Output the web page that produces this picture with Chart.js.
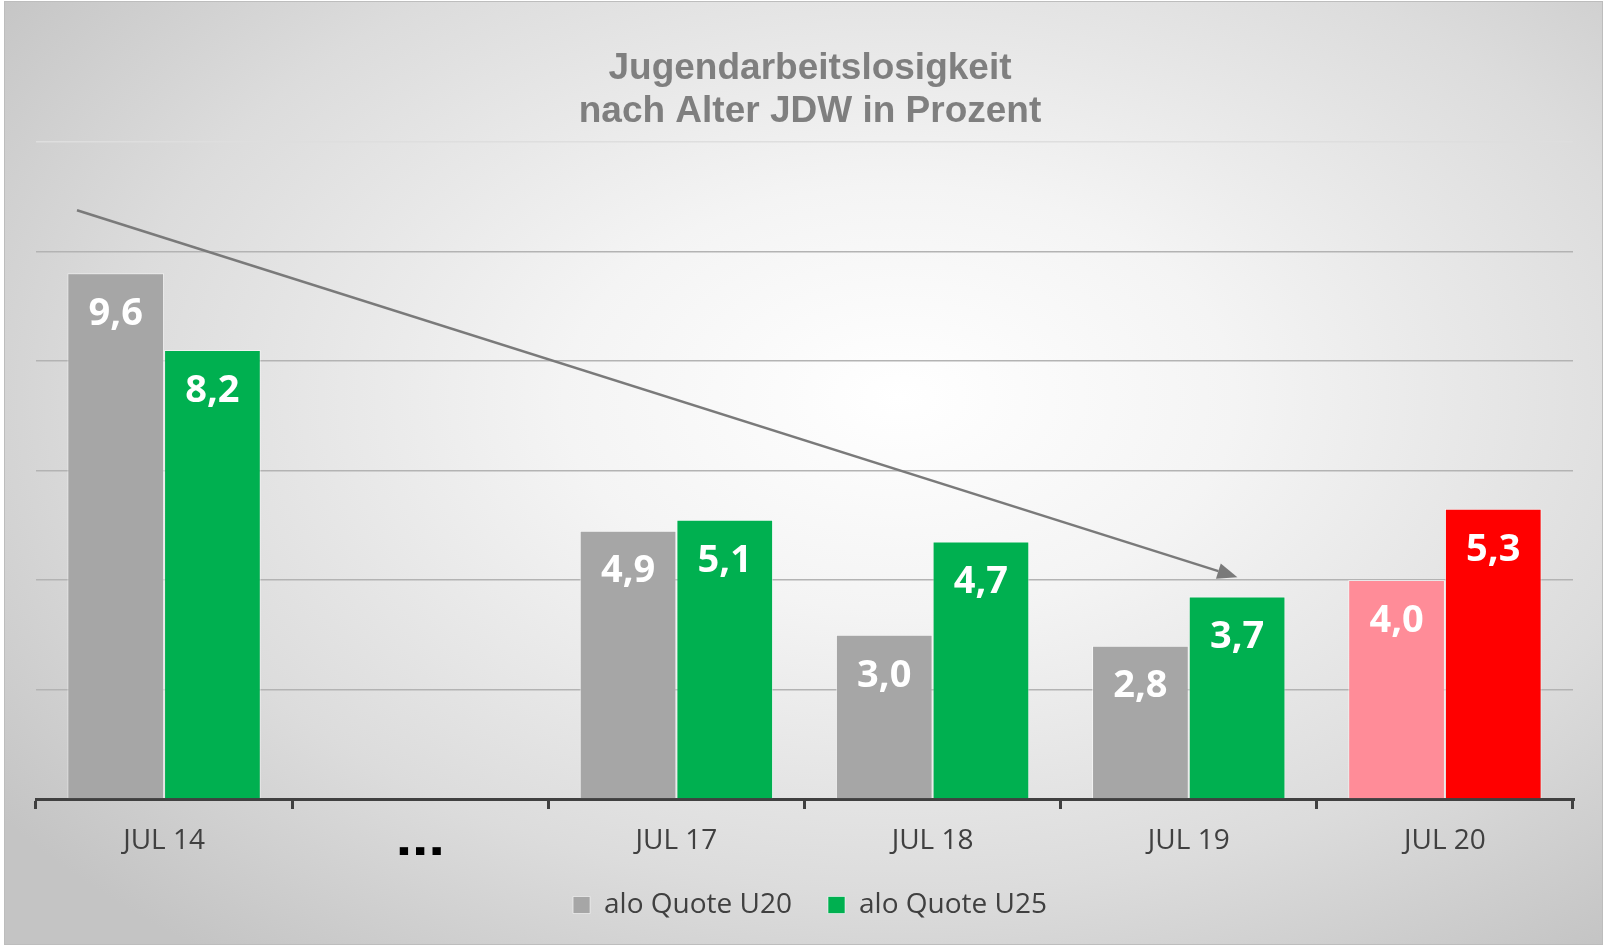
<!DOCTYPE html>
<html>
<head>
<meta charset="utf-8">
<script src="https://cdn.jsdelivr.net/npm/chart.js@4"></script>
<style>
  html, body { margin: 0; padding: 0; width: 1605px; height: 947px; overflow: hidden; background: #ffffff; }
  #frame {
    position: absolute; left: 4px; top: 1px; width: 1597px; height: 942px;
    border: 1px solid #bdbdbd;
    background: radial-gradient(ellipse 70% 75% at 56% 42%, #ffffff 0%, #f4f4f4 30%, #dcdcdc 70%, #c4c4c4 100%);
  }
  #wrap { position: absolute; left: 32px; top: 0; width: 1552px; height: 929px; }
</style>
</head>
<body>
<div id="frame"></div>
<div id="wrap"><canvas id="chart"></canvas></div>
<script>
const categories = ['JUL 14', '...', 'JUL 17', 'JUL 18', 'JUL 19', 'JUL 20'];
const quoteU20 = [9.6, null, 4.9, 3.0, 2.8, 4.0];
const quoteU25 = [8.2, null, 5.1, 4.7, 3.7, 5.3];
const seriesNames = ['alo Quote U20', 'alo Quote U25'];
const yTicks = [0, 2, 4, 6, 8, 10, 12];
// trend arrow, in (category index, percent)
const arrowFrom = [-0.34, 10.75];
const arrowTo = [4.19, 4.05];

const highlightIndex = categories.indexOf('JUL 20');

function barColor(normal, highlight) {
    return function (ctx) {
        if (ctx.type === 'data' && ctx.dataIndex === highlightIndex) return highlight;
        return normal;
    };
}

const valueLabels = {
    id: 'valueLabels',
    afterDatasetsDraw(chart) {
        const ctx = chart.ctx;
        ctx.save();
        ctx.font = 'bold 38px "Open Sans"';
        ctx.fillStyle = '#ffffff';
        ctx.textAlign = 'center';
        ctx.textBaseline = 'middle';
        chart.data.datasets.forEach(function (ds, i) {
            chart.getDatasetMeta(i).data.forEach(function (bar, j) {
                const v = ds.data[j];
                if (v === null) return;
                ctx.fillText(v.toFixed(1).replace('.', ','), bar.x, bar.y + 41);
            });
        });
        ctx.restore();
    }
};

const trendArrow = {
    id: 'trendArrow',
    afterDatasetsDraw(chart) {
        const x = chart.scales.x, y = chart.scales.y;
        const x1 = x.getPixelForValue(arrowFrom[0]), y1 = y.getPixelForValue(arrowFrom[1]);
        const x2 = x.getPixelForValue(arrowTo[0]), y2 = y.getPixelForValue(arrowTo[1]);
        const ang = Math.atan2(y2 - y1, x2 - x1);
        const len = 20, half = 8;
        const bx = x2 - len * Math.cos(ang), by = y2 - len * Math.sin(ang);
        const ctx = chart.ctx;
        ctx.save();
        ctx.strokeStyle = '#7a7a7a';
        ctx.fillStyle = '#7a7a7a';
        ctx.lineWidth = 2.5;
        ctx.beginPath();
        ctx.moveTo(x1, y1);
        ctx.lineTo(bx, by);
        ctx.stroke();
        ctx.beginPath();
        ctx.moveTo(x2, y2);
        ctx.lineTo(bx + half * Math.sin(ang), by - half * Math.cos(ang));
        ctx.lineTo(bx - half * Math.sin(ang), by + half * Math.cos(ang));
        ctx.closePath();
        ctx.fill();
        ctx.restore();
    }
};

const chart = new Chart(document.getElementById('chart'), {
    type: 'bar',
    data: {
        labels: categories,
        datasets: [
            {
                label: seriesNames[0],
                data: quoteU20,
                backgroundColor: barColor('#a6a6a6', '#ff8c98'),
                borderColor: 'rgba(255,255,255,0.55)',
                borderWidth: 1,
                categoryPercentage: 0.755,
                barPercentage: 1
            },
            {
                label: seriesNames[1],
                data: quoteU25,
                backgroundColor: barColor('#00b050', '#ff0000'),
                borderColor: 'rgba(255,255,255,0.55)',
                borderWidth: 1,
                categoryPercentage: 0.755,
                barPercentage: 1
            }
        ]
    },
    options: {
        responsive: true,
        maintainAspectRatio: false,
        animation: false,
        layout: { padding: { left: 4, right: 0, top: 0, bottom: 0 } },
        plugins: {
            title: {
                display: true,
                text: ['Jugendarbeitslosigkeit', 'nach Alter JDW in Prozent'],
                color: '#7f7f7f',
                font: { family: '"Liberation Sans", Arial, sans-serif', size: 37, weight: 'bold', lineHeight: 1.16 },
                padding: { top: 47, bottom: 9 }
            },
            legend: {
                position: 'bottom',
                labels: {
                    color: '#404040',
                    font: { family: '"Open Sans", sans-serif', size: 28 },
                    boxWidth: 17,
                    boxHeight: 17,
                    padding: 36
                }
            },
            tooltip: { enabled: false }
        },
        scales: {
            x: {
                afterFit: function (scale) { scale.height = 56; },
                grid: {
                    offset: true,
                    drawOnChartArea: false,
                    drawTicks: true,
                    tickLength: 10,
                    color: '#404040',
                    lineWidth: 3
                },
                border: { display: true, color: '#404040', width: 3 },
                ticks: {
                    padding: 15,
                    color: function (ctx) { return ctx.tick && ctx.tick.label === '...' ? '#000000' : '#404040'; },
                    font: function (ctx) {
                        if (ctx.tick && ctx.tick.label === '...') {
                            return { family: '"Liberation Sans", Arial, sans-serif', size: 59, weight: 'bold', lineHeight: 0.55 };
                        }
                        return { family: '"Open Sans", sans-serif', size: 28 };
                    }
                }
            },
            y: {
                position: 'right',
                min: 0,
                max: 12,
                afterFit: function (scale) { scale.width = 11; },
                afterBuildTicks: function (scale) {
                    scale.ticks = yTicks.map(function (v) { return { value: v }; });
                },
                ticks: { display: false },
                border: { display: false },
                grid: {
                    drawTicks: false,
                    lineWidth: 1.5,
                    color: function (ctx) {
                        const v = ctx.tick.value;
                        if (v === 0) return 'rgba(0,0,0,0)';
                        if (v === 12) return '#dedede';
                        return '#b3b3b3';
                    }
                }
            }
        }
    },
    plugins: [valueLabels, trendArrow]
});
</script>
</body>
</html>
